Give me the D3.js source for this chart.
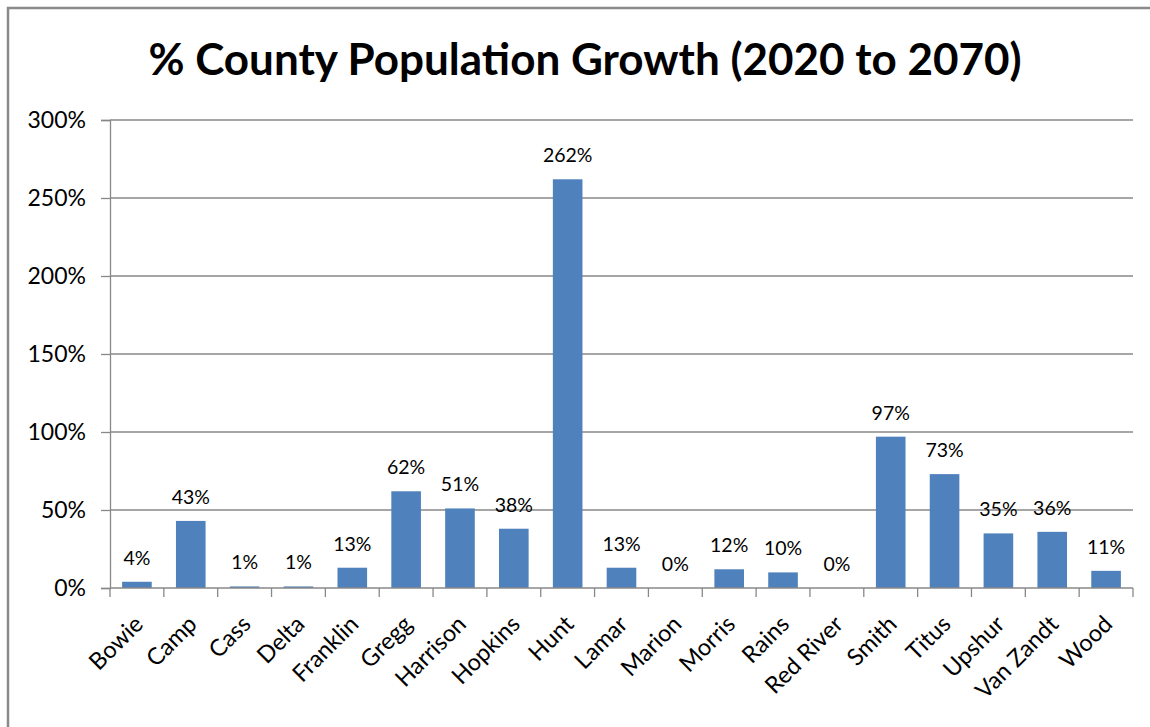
<!DOCTYPE html>
<html>
<head>
<meta charset="utf-8">
<script src="https://cdn.jsdelivr.net/npm/d3@7"></script>
<style>
  html, body { margin: 0; padding: 0; background: #fff; }
  svg { display: block; }
  text { font-family: Lato, "Open Sans", sans-serif; fill: #000; }
</style>
</head>
<body>
<svg id="chart" width="1150" height="727"></svg>
<script>
// County growth figures, 2020 -> 2070, in percent
const counties = ["Bowie", "Camp", "Cass", "Delta", "Franklin", "Gregg", "Harrison", "Hopkins", "Hunt",
  "Lamar", "Marion", "Morris", "Rains", "Red River", "Smith", "Titus", "Upshur", "Van Zandt", "Wood"];
const growth = [4, 43, 1, 1, 13, 62, 51, 38, 262, 13, 0, 12, 10, 0, 97, 73, 35, 36, 11];
const yTicks = [0, 50, 100, 150, 200, 250, 300];
const title = "% County Population Growth (2020 to 2070)";

const svg = d3.select("#chart");
const W = 1150, H = 727;
const plot = { left: 110, right: 1133, top: 120, bottom: 588 };
const gridColor = "#888888";
const barColor = "#4F81BD";

// chart area frame (top and left edges visible)
svg.append("path")
  .attr("d", `M8,${H + 5} L8,8 L${W + 5},8`)
  .attr("fill", "none")
  .attr("stroke", "#8a8a8a")
  .attr("stroke-width", 2.5);

svg.append("text")
  .attr("x", 585)
  .attr("y", 75)
  .attr("text-anchor", "middle")
  .style("font-weight", "bold")
  .style("font-size", "44px")
  .text(title);

const x = d3.scaleBand()
  .domain(counties)
  .range([plot.left, plot.right])
  .paddingInner(0.45)
  .paddingOuter(0.225);

const y = d3.scaleLinear()
  .domain([0, 300])
  .range([plot.bottom, plot.top]);

// horizontal gridlines
svg.append("g")
  .selectAll("line")
  .data(yTicks.filter(d => d > 0))
  .join("line")
  .attr("x1", plot.left)
  .attr("x2", plot.right)
  .attr("y1", d => y(d))
  .attr("y2", d => y(d))
  .attr("stroke", gridColor)
  .attr("stroke-width", 1.3);

// value axis
const yAxis = svg.append("g")
  .attr("transform", `translate(${plot.left},0)`)
  .call(d3.axisLeft(y).tickValues(yTicks).tickFormat(d => d + "%").tickSize(9).tickPadding(15));
yAxis.select(".domain").attr("stroke", gridColor).attr("stroke-width", 1.3);
yAxis.selectAll(".tick line").attr("stroke", gridColor).attr("stroke-width", 1.3);
yAxis.selectAll(".tick text")
  .attr("fill", "#000")
  .style("font-family", "Lato, sans-serif")
  .style("font-size", "23px");

// bars
svg.append("g")
  .selectAll("rect")
  .data(counties)
  .join("rect")
  .attr("x", d => x(d))
  .attr("width", x.bandwidth())
  .attr("y", (d, i) => y(growth[i]))
  .attr("height", (d, i) => y(0) - y(growth[i]))
  .attr("fill", barColor);

// data labels
svg.append("g")
  .selectAll("text")
  .data(counties)
  .join("text")
  .attr("x", d => x(d) + x.bandwidth() / 2)
  .attr("y", (d, i) => y(growth[i]) - 17)
  .attr("text-anchor", "middle")
  .style("font-size", "19.5px")
  .attr("fill", "#222")
  .text((d, i) => growth[i] + "%");

// category axis with ticks at band boundaries
const step = x.step();
const bounds = d3.range(counties.length + 1).map(i => plot.left + i * step);
const xg = svg.append("g");
xg.append("line")
  .attr("x1", plot.left).attr("x2", plot.right)
  .attr("y1", plot.bottom).attr("y2", plot.bottom)
  .attr("stroke", gridColor).attr("stroke-width", 1.3);
xg.selectAll("line.tick")
  .data(bounds)
  .join("line")
  .attr("class", "tick")
  .attr("x1", d => d).attr("x2", d => d)
  .attr("y1", plot.bottom).attr("y2", plot.bottom + 9)
  .attr("stroke", gridColor).attr("stroke-width", 1.3);

xg.selectAll("text")
  .data(counties)
  .join("text")
  .attr("transform", d => `translate(${x(d) + x.bandwidth() / 2 - 4},${plot.bottom + 26}) rotate(-45)`)
  .attr("text-anchor", "end")
  .attr("dy", "0.7em")
  .style("font-size", "23.5px")
  .text(d => d);
</script>
</body>
</html>
